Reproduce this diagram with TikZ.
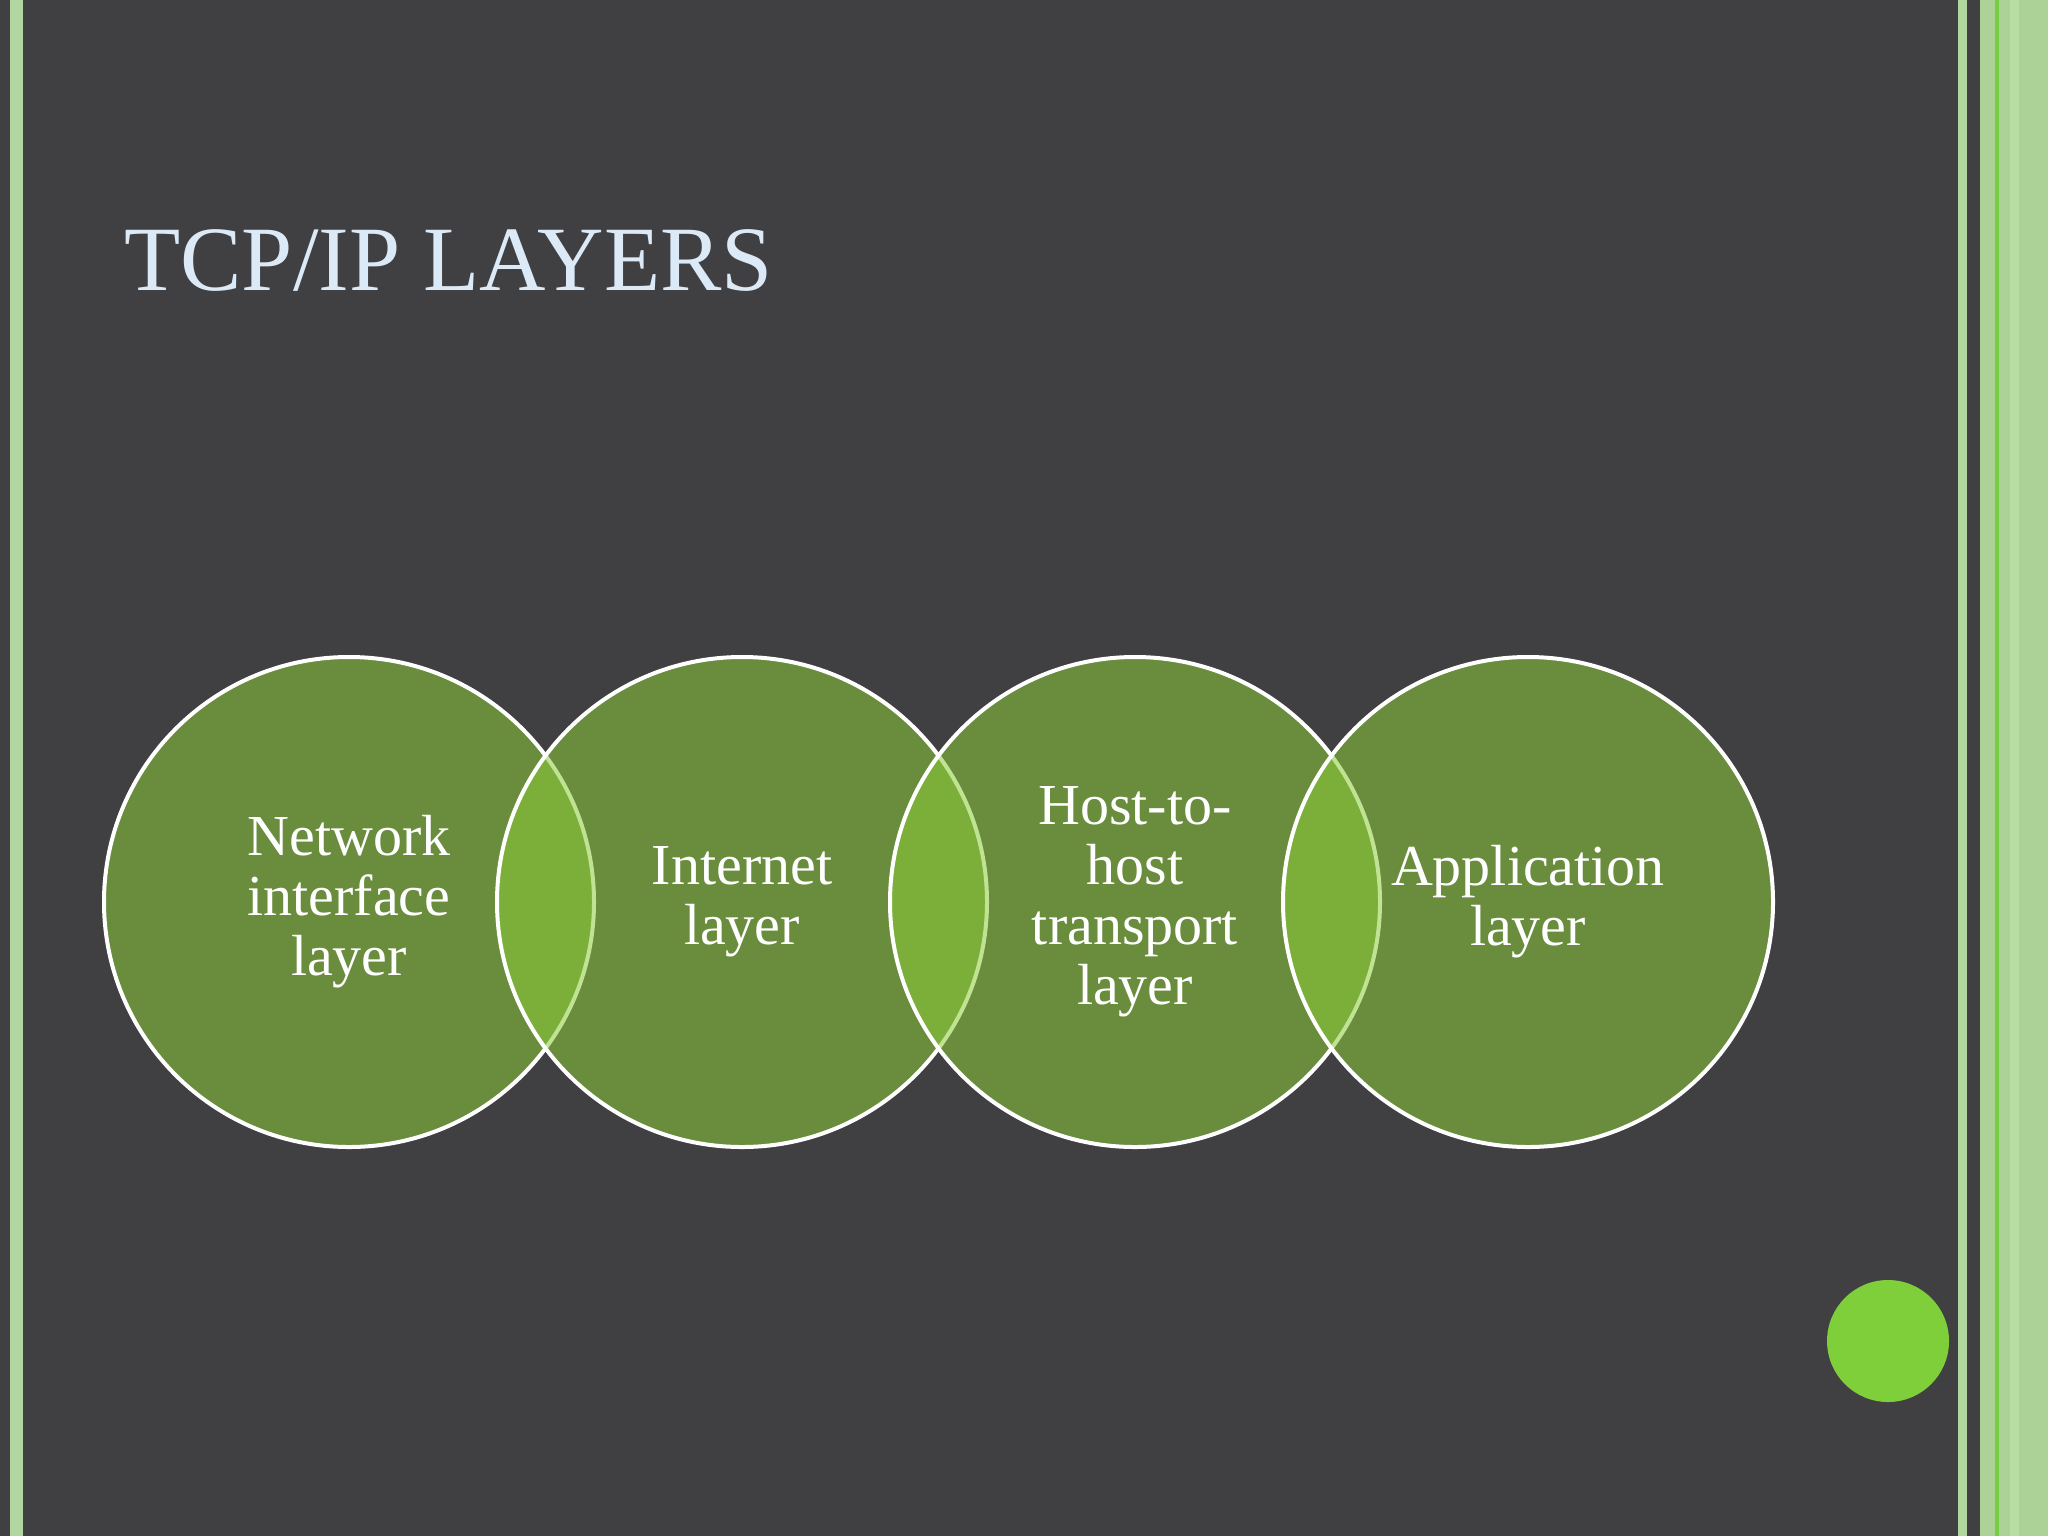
\documentclass[tikz,border=0pt]{standalone}
\usepackage{fontspec}
\setmainfont{Liberation Serif}
\begin{document}
\begin{tikzpicture}[x=0.5pt,y=-0.5pt,
  layer/.style={circle,minimum size=245pt,inner sep=0pt,fill={rgb,255:red,140;green,205;blue,57},fill opacity=0.54,draw=white,line width=2pt,draw opacity=1},
  lbl/.style={text=white,align=center,font=\fontsize{29}{30}\selectfont}]
\fill[fill={rgb,255:red,64;green,64;blue,66}] (0,0) rectangle (2048,1536);
\useasboundingbox (0,0) rectangle (2048,1536);
\fill[fill={rgb,255:red,178;green,214;blue,160}] (10,0) rectangle (23,1536);
\fill[fill={rgb,255:red,178;green,214;blue,160}] (1958,0) rectangle (1967,1536);
\fill[fill={rgb,255:red,172;green,210;blue,152}] (1980,0) rectangle (2048,1536);
\fill[fill={rgb,255:red,120;green,205;blue,70}] (1995,0) rectangle (1999,1536);
\fill[fill={rgb,255:red,185;green,222;blue,165}] (2010,0) rectangle (2019,1536);
\node[anchor=base west,text={rgb,255:red,220;green,234;blue,248},font=\fontsize{46}{46}\selectfont,inner sep=0pt] (title) at (124,290) {TCP/IP LAYERS};
\node[layer] (c1) at (349,902) {};
\node[layer] (c2) at (742,902) {};
\node[layer] (c3) at (1135,902) {};
\node[layer] (c4) at (1528,902) {};
\node[lbl] (n1) at (c1) {Network\\interface\\layer};
\node[lbl] (n2) at (c2) {Internet\\layer};
\node[lbl] (n3) at (c3) {Host-to-\\host\\transport\\layer};
\node[lbl] (n4) at (c4) {Application\\layer};
\fill[fill={rgb,255:red,127;green,207;blue,58}] (1888,1341) circle[radius=61] coordinate (dot);
\end{tikzpicture}
\end{document}
